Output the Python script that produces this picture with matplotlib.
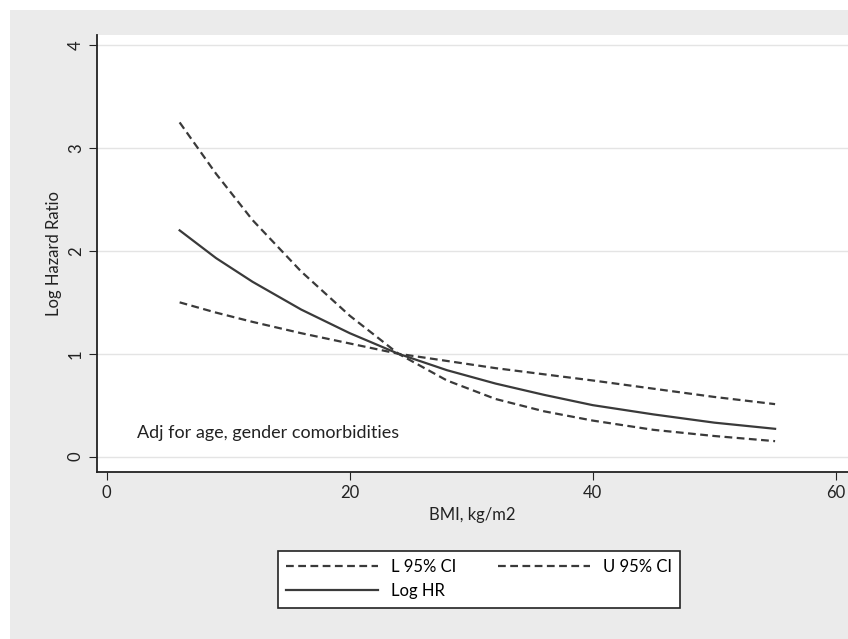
import numpy as np
import matplotlib.pyplot as plt
from matplotlib.patches import Rectangle

plt.rcParams['font.family'] = ['Lato', 'DejaVu Sans']

bmi = [6, 9, 12, 16, 20, 24, 28, 32, 36, 40, 45, 50, 55]
log_hr = [2.2, 1.93, 1.7, 1.43, 1.2, 1.0, 0.84, 0.71, 0.6, 0.5, 0.41, 0.33, 0.27]
upper_ci = [3.25, 2.75, 2.3, 1.8, 1.37, 1.0, 0.74, 0.56, 0.44, 0.35, 0.26, 0.2, 0.15]
lower_ci = [1.5, 1.4, 1.31, 1.2, 1.1, 1.0, 0.93, 0.86, 0.8, 0.74, 0.66, 0.58, 0.51]

W, H = 848, 639
fig = plt.figure(figsize=(W / 100, H / 100), dpi=100)
fig.patch.set_facecolor('white')
fig.patches.append(Rectangle((10 / W, 0), 1, 1 - 10 / H, transform=fig.transFigure,
                             facecolor='#ebebeb', edgecolor='none', zorder=-10))

ax = fig.add_axes([97 / W, 1 - 472 / H, 1 - 97 / W, (472 - 35) / H])
ax.set_facecolor('white')
ax.set_xlim(-0.8, 61)
ax.set_ylim(-0.15, 4.1)
for y in range(5):
    ax.axhline(y, color='#e4e4e4', lw=1, zorder=0)

c = '#3a3a3a'
l1, = ax.plot(bmi, lower_ci, color=c, lw=1.6, ls=(0, (3.5, 2)), label='L 95% CI')
l2, = ax.plot(bmi, upper_ci, color=c, lw=1.6, ls=(0, (3.5, 2)), label='U 95% CI')
l3, = ax.plot(bmi, log_hr, color=c, lw=1.6, label='Log HR')

ax.text(2.5, 0.18, 'Adj for age, gender comorbidities', fontsize=13, color='#222')

ax.set_xticks([0, 20, 40, 60])
ax.set_yticks([0, 1, 2, 3, 4])
ax.tick_params(axis='y', labelrotation=90, length=6, colors='#222', labelsize=12)
ax.tick_params(axis='x', length=6, colors='#222', labelsize=12)
for lab in ax.get_yticklabels():
    lab.set_va('center')
for s in ['top', 'right']:
    ax.spines[s].set_visible(False)
for s in ['left', 'bottom']:
    ax.spines[s].set_color('#222')
    ax.spines[s].set_linewidth(1.3)
ax.set_xlabel('BMI, kg/m2', fontsize=12, color='#222')
ax.set_ylabel('Log Hazard Ratio', fontsize=12, color='#222')

leg = fig.legend([l1, l3, l2], ['L 95% CI', 'Log HR', 'U 95% CI'], ncol=2, loc='center',
                 bbox_to_anchor=(479 / W, 1 - 579 / H),
                 fontsize=12, frameon=True, fancybox=False, edgecolor='#222',
                 facecolor='white', framealpha=1,
                 handlelength=5.5, columnspacing=2.5, borderpad=0.5)
leg.get_frame().set_linewidth(1.2)

fig.savefig('out.png', dpi=100)
